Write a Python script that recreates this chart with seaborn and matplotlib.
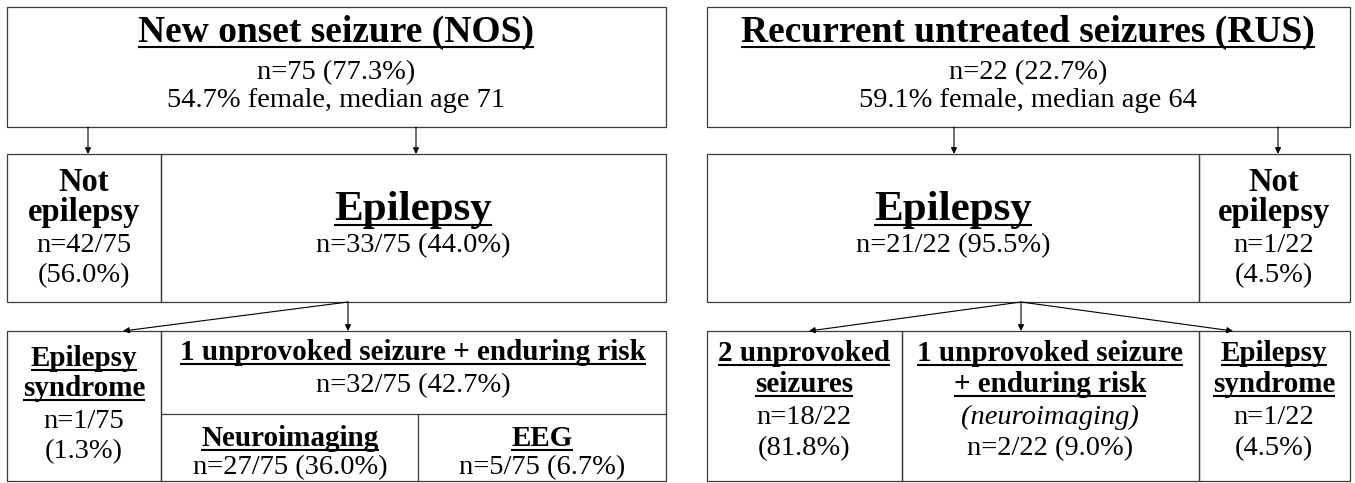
import matplotlib
matplotlib.use("Agg")
import matplotlib.pyplot as plt
import seaborn as sns
from matplotlib.patches import Rectangle

# box texts
nos_summary = ["New onset seizure (NOS)", "n=75 (77.3%)", "54.7% female, median age 71"]
rus_summary = ["Recurrent untreated seizures (RUS)", "n=22 (22.7%)", "59.1% female, median age 64"]
nos_not_epilepsy = ["Not", "epilepsy", "n=42/75", "(56.0%)"]
nos_epilepsy = ["Epilepsy", "n=33/75 (44.0%)"]
nos_syndrome = ["Epilepsy", "syndrome", "n=1/75", "(1.3%)"]
nos_enduring = ["1 unprovoked seizure + enduring risk", "n=32/75 (42.7%)"]
nos_neuroimaging = ["Neuroimaging", "n=27/75 (36.0%)"]
nos_eeg = ["EEG", "n=5/75 (6.7%)"]
rus_epilepsy = ["Epilepsy", "n=21/22 (95.5%)"]
rus_not_epilepsy = ["Not", "epilepsy", "n=1/22", "(4.5%)"]
rus_two_unprovoked = ["2 unprovoked", "seizures", "n=18/22", "(81.8%)"]
rus_enduring = ["1 unprovoked seizure", "+ enduring risk", "(neuroimaging)", "n=2/22 (9.0%)"]
rus_syndrome = ["Epilepsy", "syndrome", "n=1/22", "(4.5%)"]

W, H = 1355, 483

sns.set_theme(style="white")
plt.rcParams["font.family"] = ["Liberation Serif", "DejaVu Serif"]

fig = plt.figure(figsize=(W / 100, H / 100), dpi=100)
ax = fig.add_axes([0, 0, 1, 1])
ax.set_xlim(0, W)
ax.set_ylim(H, 0)
ax.axis("off")

EDGE = "#3a3a3a"
STYLES = {
    "title": dict(size=27, bold=True, ul=True),
    "big": dict(size=31, bold=True, ul=True),
    "head": dict(size=23.5, bold=True, ul=False),
    "head_ul": dict(size=21, bold=True, ul=True),
    "body": dict(size=20.5, bold=False, ul=False),
    "ital": dict(size=20.5, bold=False, ul=False, italic=True),
}
underlined = []


def box(x0, y0, x1, y1):
    ax.add_patch(Rectangle((x0, y0), x1 - x0, y1 - y0, fill=False,
                           edgecolor=EDGE, lw=0.9))


def line(x0, y0, x1, y1):
    ax.plot([x0, x1], [y0, y1], color=EDGE, lw=0.9)


def arrow(x0, y0, x1, y1):
    ax.annotate("", xy=(x1, y1), xytext=(x0, y0),
                arrowprops=dict(arrowstyle="-|>", color="black", lw=0.8,
                                mutation_scale=9, shrinkA=0, shrinkB=0))


def stack(lines, x, baselines, styles):
    for s, y, st in zip(lines, baselines, styles):
        o = STYLES[st]
        t = ax.text(x, y, s, ha="center", va="baseline", fontsize=o["size"],
                    fontweight="bold" if o["bold"] else "normal",
                    fontstyle="italic" if o.get("italic") else "normal",
                    color="black")
        if o["ul"]:
            underlined.append((t, o["size"]))


# ---- left panel: NOS ----
box(7, 7, 666, 127)
box(7, 154, 161, 302)
box(161, 154, 666, 302)
box(7, 331, 161, 481)
box(161, 331, 666, 481)
line(161, 414, 666, 414)
line(418, 414, 418, 481)
arrow(88, 127, 88, 154)
arrow(416, 127, 416, 154)
arrow(348, 302, 123, 331)
arrow(348, 302, 348, 331)

stack(nos_summary, 336, [42, 79, 107], ["title", "body", "body"])
stack(nos_not_epilepsy, 84, [191, 221, 252, 282], ["head", "head", "body", "body"])
stack(nos_epilepsy, 413, [220, 252], ["big", "body"])
stack(nos_syndrome, 84, [366, 396, 428, 458], ["head_ul", "head_ul", "body", "body"])
stack(nos_enduring, 413, [360, 392], ["head_ul", "body"])
stack(nos_neuroimaging, 290, [446, 474], ["head_ul", "body"])
stack(nos_eeg, 542, [446, 474], ["head_ul", "body"])

# ---- right panel: RUS ----
box(707, 7, 1350, 127)
box(707, 154, 1199, 302)
box(1199, 154, 1350, 302)
box(707, 331, 902, 481)
box(902, 331, 1199, 481)
box(1199, 331, 1350, 481)
arrow(954, 127, 954, 154)
arrow(1278, 127, 1278, 154)
arrow(1021, 302, 809, 331)
arrow(1021, 302, 1021, 331)
arrow(1021, 302, 1233, 331)

stack(rus_summary, 1028, [42, 79, 107], ["title", "body", "body"])
stack(rus_epilepsy, 953, [220, 252], ["big", "body"])
stack(rus_not_epilepsy, 1274, [191, 221, 252, 282], ["head", "head", "body", "body"])
rows = [361, 392, 424, 455]
stack(rus_two_unprovoked, 804, rows, ["head_ul", "head_ul", "body", "body"])
stack(rus_enduring, 1050, rows, ["head_ul", "head_ul", "ital", "body"])
stack(rus_syndrome, 1274, rows, ["head_ul", "head_ul", "body", "body"])

# underlines drawn from the rendered text extents
fig.canvas.draw()
r = fig.canvas.get_renderer()
inv = ax.transData.inverted()
for t, size in underlined:
    bb = t.get_window_extent(r)
    x0 = inv.transform((bb.x0, 0))[0]
    x1 = inv.transform((bb.x1, 0))[0]
    y = t.get_position()[1] + size * 100 / 72 * 0.12
    ax.plot([x0, x1], [y, y], color="black", lw=1.5, solid_capstyle="butt")

fig.savefig("out.png", dpi=100, facecolor="white")
